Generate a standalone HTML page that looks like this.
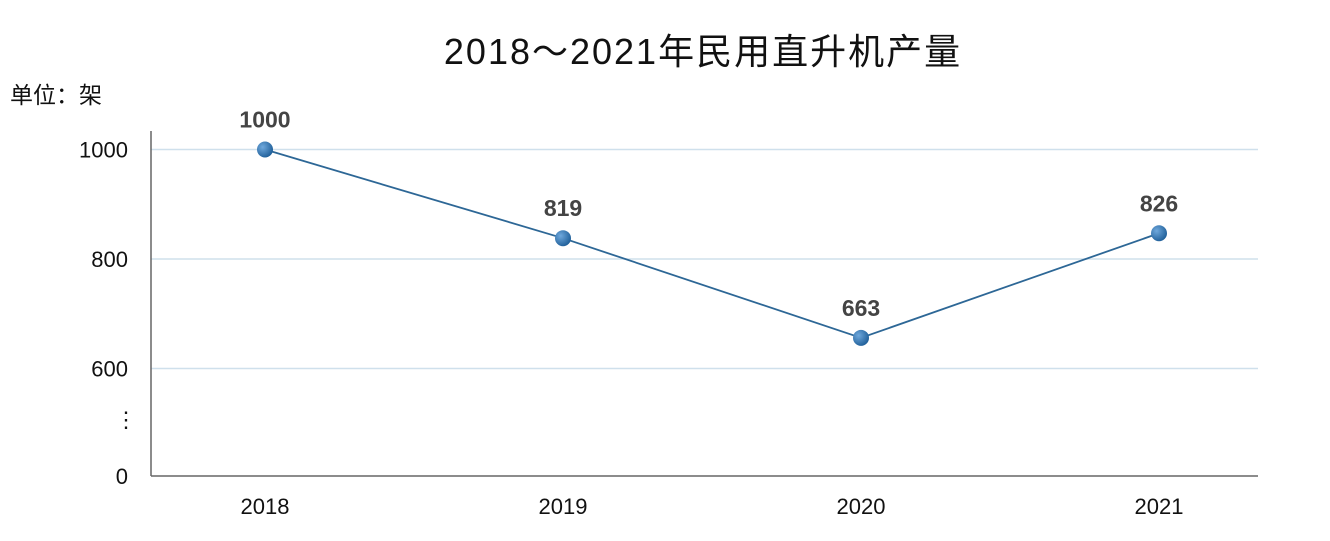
<!DOCTYPE html>
<html><head><meta charset="utf-8"><style>
body{margin:0;background:#fff;}
svg text{font-family:"Liberation Sans","Noto Sans CJK SC",sans-serif;}
</style></head><body>
<svg width="1330" height="536" viewBox="0 0 1330 536">
<defs>
<radialGradient id="dot" cx="35%" cy="35%" r="70%">
<stop offset="0%" stop-color="#6fa8dc"/><stop offset="100%" stop-color="#1f5f99"/>
</radialGradient>
</defs>
<text x="703" y="64" text-anchor="middle" font-size="36" fill="#111" letter-spacing="2">2018～2021年民用直升机产量</text>
<text x="10" y="103" font-size="23" fill="#111">单位：架</text>
<g id="grid"></g>
<line x1="151" y1="131" x2="151" y2="476" stroke="#666" stroke-width="1.5"/>
<line x1="151" y1="476" x2="1258" y2="476" stroke="#666" stroke-width="1.5"/>
<text x="126" y="427" text-anchor="middle" font-size="22" fill="#111">⋮</text>
<g id="ticks"></g>
<g id="series"></g>
</svg>
<script>
const categories = ["2018","2019","2020","2021"];
const values = [1000, 838, 656, 847];
const valueLabels = ["1000","819","663","826"];
const yTicks = [600, 800, 1000];
const yTickLabels = ["600","800","1000"];
const ns="http://www.w3.org/2000/svg";
function y(v){ return 259 - (v-800)*(109.5/200); }
function x(i){ return 265 + i*298; }
function mk(tag,attrs,parent,txt){const e=document.createElementNS(ns,tag);for(const k in attrs)e.setAttribute(k,attrs[k]);if(txt!==undefined)e.textContent=txt;parent.appendChild(e);return e;}
const grid=document.getElementById('grid'),ticks=document.getElementById('ticks'),series=document.getElementById('series');
yTicks.forEach((t,i)=>{
  const g=mk('line',{x1:151,x2:1258,y1:y(t),y2:y(t),stroke:'#cfe0ec','stroke-width':1.5},grid);
  
  
  const l=mk('text',{x:128,y:y(t)+8,'text-anchor':'end','font-size':22,fill:'#111'},ticks,yTickLabels[i]);
  
  
});
const z=mk('text',{x:128,y:484,'text-anchor':'end','font-size':22,fill:'#111'},ticks,"0");


categories.forEach((c,i)=>{
  const l=mk('text',{x:x(i),y:514,'text-anchor':'middle','font-size':22,fill:'#111'},ticks,c);
  
  
});
const pl=mk('polyline',{points:values.map((v,i)=>x(i)+','+y(v)).join(' '),fill:'none',stroke:'#2d6796','stroke-width':1.8},series);


values.forEach((v,i)=>{
  const c=mk('circle',{cx:x(i),cy:y(v),r:8,fill:'url(#dot)'},series);
  
  
  const t=mk('text',{x:x(i),y:y(v)-22,'text-anchor':'middle','font-size':23,'font-weight':'bold',fill:'#444'},series,valueLabels[i]);
  
  
});
</script>
</body></html>
